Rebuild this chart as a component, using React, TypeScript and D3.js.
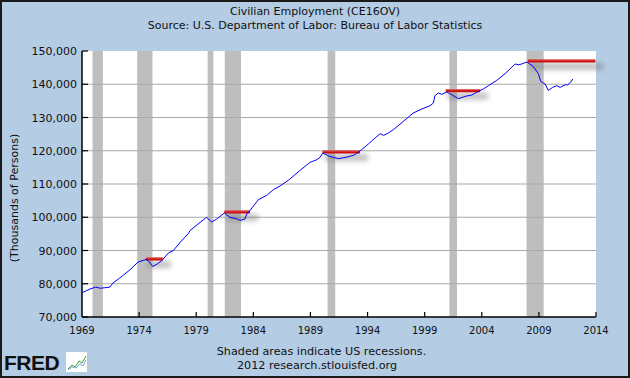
import React from 'react';
import * as d3 from 'd3';

const years = [1969.06, 1969.7, 1970.2, 1970.6, 1971.0, 1971.45, 1971.7, 1972.3, 1973.2, 1973.9, 1974.6, 1974.8, 1975.2, 1975.6, 1975.98, 1976.56, 1977.0, 1977.6, 1978.3, 1978.46, 1979.33, 1979.9, 1980.36, 1980.8, 1981.46, 1981.96, 1982.55, 1982.84, 1983.27, 1983.42, 1983.71, 1984.44, 1985.17, 1985.75, 1986.34, 1987.1, 1988.09, 1988.96, 1989.55, 1989.84, 1990.07, 1990.7, 1991.45, 1992.2, 1992.9, 1993.34, 1994.07, 1994.66, 1995.1, 1995.4, 1995.82, 1996.26, 1997.13, 1998.0, 1998.75, 1999.47, 1999.76, 1999.9, 2000.2, 2000.5, 2000.93, 2001.37, 2001.95, 2002.54, 2003.12, 2003.7, 2004.14, 2004.58, 2005.31, 2006.04, 2006.92, 2007.2, 2007.5, 2007.94, 2008.5, 2008.96, 2009.16, 2009.54, 2009.83, 2010.2, 2010.57, 2010.86, 2011.3, 2011.5, 2011.8, 2011.97];
const employment = [77400, 78400, 79000, 78650, 78800, 79000, 80200, 81700, 84200, 86500, 87300, 86900, 85200, 86000, 86900, 89250, 90000, 92500, 95050, 96000, 98450, 99950, 98570, 99470, 101280, 99950, 99560, 99060, 99470, 100980, 102060, 105280, 106570, 108280, 109400, 111200, 114100, 116500, 117300, 118000, 119320, 118300, 117600, 118100, 118800, 119930, 122030, 123840, 125130, 124620, 125340, 126330, 128830, 131350, 132560, 133550, 134360, 136560, 137370, 136950, 137670, 136860, 135650, 136350, 136770, 137850, 138570, 139560, 141160, 143170, 146090, 145880, 146090, 146690, 145370, 143170, 140860, 140080, 138150, 139050, 139560, 139050, 139860, 139770, 140680, 141580];

const recessionStarts = [1969.92, 1973.83, 1980.0, 1981.5, 1990.5, 2001.17, 2007.92];
const recessionEnds = [1970.83, 1975.17, 1980.5, 1982.92, 1991.17, 2001.83, 2009.42];

const peakStarts = [1974.6, 1981.46, 1990.07, 2000.85, 2008.03];
const peakEnds = [1976.07, 1983.71, 1993.34, 2003.85, 2013.95];
const peakLevels = [87450, 101580, 119620, 138060, 146990];

const yTicks = [70000, 80000, 90000, 100000, 110000, 120000, 130000, 140000, 150000];
const xTicks = [1969, 1974, 1979, 1984, 1989, 1994, 1999, 2004, 2009, 2014];

const title = 'Civilian Employment (CE16OV)';
const subtitle = 'Source: U.S. Department of Labor: Bureau of Labor Statistics';
const yLabel = '(Thousands of Persons)';
const note1 = 'Shaded areas indicate US recessions.';
const note2 = '2012 research.stlouisfed.org';

const W = 630, H = 378;
const L = 82, R = 596, T = 51, B = 317;
const FONT = 'DejaVu Sans, Verdana, sans-serif';

export default function App() {
  const x = d3.scaleLinear().domain([1969, 2014]).range([L, R]);
  const y = d3.scaleLinear().domain([70000, 150000]).range([B, T]);
  const fmt = d3.format(',');
  const pts: [number, number][] = years.map((yr, i) => [yr, employment[i]]);
  const line = d3.line<[number, number]>().x(d => x(d[0])).y(d => y(d[1]));

  return (
    <svg width={W} height={H} style={{ position: 'absolute', left: 0, top: 0 }} fontFamily={FONT}>
      <defs>
        <filter id="sh" x="-20%" y="-100%" width="140%" height="300%">
          <feGaussianBlur stdDeviation="2.5" />
        </filter>
      </defs>
      <rect x={0} y={0} width={W} height={H} fill="#b4cce4" />
      <rect x={1} y={1} width={W - 2} height={H - 2} fill="none" stroke="#1a1a1a" strokeWidth={2} />
      <text x={W / 2} y={15} textAnchor="middle" fontSize={11} fill="#111">{title}</text>
      <text x={W / 2} y={29} textAnchor="middle" fontSize={11} fill="#111">{subtitle}</text>

      <rect x={L} y={T} width={R - L} height={B - T} fill="#fff" />
      {recessionStarts.map((s, i) => (
        <rect key={'r' + i} x={x(s)} y={T} width={x(recessionEnds[i]) - x(s)} height={B - T} fill="#bebebe" />
      ))}
      {yTicks.filter(v => v > 70000 && v < 150000).map(v => (
        <line key={'g' + v} x1={L} x2={R} y1={y(v)} y2={y(v)} stroke="#a8a8a8" strokeWidth={1.2} />
      ))}

      {peakLevels.map((v, i) => (
        <g key={'p' + i}>
          <rect x={x(peakStarts[i]) + 2} y={y(v) + 2} width={x(peakEnds[i]) - x(peakStarts[i]) + 6} height={7} fill="#777" opacity={0.45} filter="url(#sh)" />
          <line x1={x(peakStarts[i])} x2={x(peakEnds[i])} y1={y(v)} y2={y(v)} stroke="#cc1010" strokeWidth={3} />
          <line x1={x(peakStarts[i])} x2={x(peakEnds[i])} y1={y(v) - 1} y2={y(v) - 1} stroke="#e87070" strokeWidth={0.8} />
        </g>
      ))}

      <path d={line(pts) || ''} fill="none" stroke="#0000ff" strokeWidth={1} />

      <line x1={L} x2={L} y1={T} y2={B} stroke="#000" strokeWidth={1.5} />
      <line x1={L} x2={R} y1={B} y2={B} stroke="#000" strokeWidth={1.5} />
      {yTicks.map(v => (
        <g key={'yt' + v}>
          <line x1={L} x2={L + 6} y1={y(v)} y2={y(v)} stroke="#000" strokeWidth={1.2} />
          <text x={L - 5} y={y(v) + 4} textAnchor="end" fontSize={11} fill="#111">{fmt(v)}</text>
        </g>
      ))}
      {xTicks.map(t => (
        <g key={'xt' + t}>
          {t > 1969 && <line x1={x(t)} x2={x(t)} y1={B} y2={B - 5} stroke="#000" strokeWidth={1.2} />}
          <text x={x(t)} y={B + 17} textAnchor="middle" fontSize={10} fill="#111">{t}</text>
        </g>
      ))}
      <text transform={`translate(18,${(T + B) / 2 + 14}) rotate(-90)`} textAnchor="middle" fontSize={11} fill="#111">{yLabel}</text>

      <text x={321.5} y={355} textAnchor="middle" fontSize={11.2} fill="#111">{note1}</text>
      <text x={317} y={368.5} textAnchor="middle" fontSize={11.2} fill="#111">{note2}</text>

      <g>
        <text x={4} y={370} fontSize={21} fontWeight={900} fontFamily="Liberation Sans, Arial, sans-serif" fill="#111" letterSpacing={-0.5}>FRED</text>
        <rect x={66} y={352} width={21} height={20} fill="#fff" />
        <polyline points="68,369 72,365 75,367 79,361 82,363 86,356" fill="none" stroke="#3a9a3a" strokeWidth={1} />
        <polyline points="68,370 72,367 76,368 80,364 83,366 86,360" fill="none" stroke="#7aa8d8" strokeWidth={1} />
      </g>
    </svg>
  );
}
